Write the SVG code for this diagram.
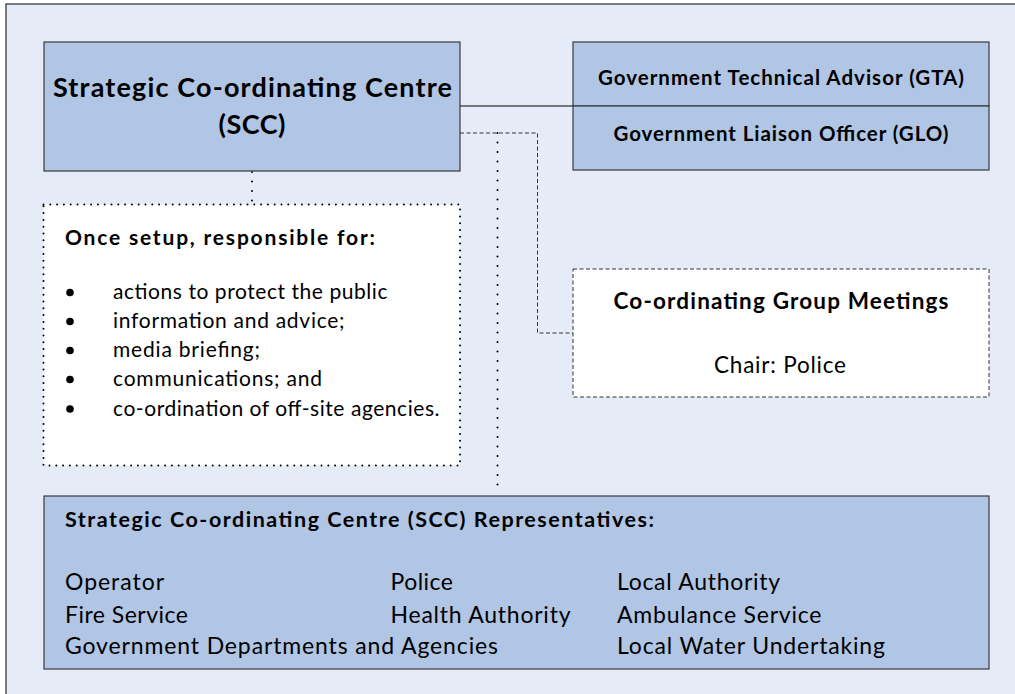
<svg xmlns="http://www.w3.org/2000/svg" width="1015" height="694" viewBox="0 0 1015 694">
<style>
text{font-family:Lato,"Liberation Sans",sans-serif;fill:#000}
.b{font-weight:bold}
.box{fill:#B1C5E4;stroke:#3a3a3a;stroke-width:1.2}
.solid{stroke:#000;stroke-width:1.2;fill:none}
.dash{stroke:#333;stroke-width:1;stroke-dasharray:4 2.5;fill:none}
.dot{stroke:#000;stroke-width:2;stroke-linecap:round;stroke-dasharray:0 9.5;fill:none}
.dotbox{fill:#fff;stroke:#000;stroke-width:2;stroke-linecap:round;stroke-dasharray:0 6.8}
</style>
<rect x="0" y="0" width="1015" height="694" fill="#fff"/>
<rect x="6" y="4" width="1020" height="700" fill="#E6ECF7" stroke="#000" stroke-width="1"/>
<g id="connectors">
<line class="solid" x1="460" y1="106" x2="573" y2="106"/>
<polyline class="dash" points="460,133 537.5,133 537.5,333 573,333"/>
<line class="dot" x1="497.5" y1="133" x2="497.5" y2="494"/>
<line class="dot" x1="252" y1="172" x2="252" y2="204"/>
</g>
<g id="scc">
<rect class="box" x="44" y="42" width="416" height="129"/>
<text class="b" x="252.5" y="97" font-size="27" text-anchor="middle" textLength="399">Strategic Co-ordinating Centre</text>
<text class="b" x="252" y="134" font-size="27" text-anchor="middle" textLength="67">(SCC)</text>
</g>
<g id="gta">
<rect class="box" x="573" y="42" width="416" height="64"/>
<text class="b" x="781" y="84.5" font-size="20.5" text-anchor="middle" textLength="366">Government Technical Advisor (GTA)</text>
</g>
<g id="glo">
<rect class="box" x="573" y="106" width="416" height="64"/>
<text class="b" x="781" y="141" font-size="20.5" text-anchor="middle" textLength="335">Government Liaison Officer (GLO)</text>
</g>
<g id="responsibilities">
<rect class="dotbox" x="43.5" y="204.5" width="416.5" height="261"/>
<text class="b" x="65" y="244.5" font-size="21" textLength="310">Once setup, responsible for:</text>
<g fill="#000">
<circle cx="70" cy="292.5" r="3.8"/>
<circle cx="70" cy="321.5" r="3.8"/>
<circle cx="70" cy="350.5" r="3.8"/>
<circle cx="70" cy="379.5" r="3.8"/>
<circle cx="70" cy="409" r="3.8"/>
</g>
<g font-size="21">
<text x="113" y="299" textLength="274.5">actions to protect the public</text>
<text x="113" y="328" textLength="231.5">information and advice;</text>
<text x="113" y="357" textLength="147">media briefing;</text>
<text x="113" y="386" textLength="209">communications; and</text>
<text x="113" y="415.5" textLength="326.5">co-ordination of off-site agencies.</text>
</g>
</g>
<g id="cgm">
<rect x="573" y="269" width="416" height="128" fill="#fff" stroke="#333" stroke-width="1" stroke-dasharray="4 2.5"/>
<text class="b" x="781" y="309" font-size="22.5" text-anchor="middle" textLength="335">Co-ordinating Group Meetings</text>
<text x="780" y="373" font-size="22.5" text-anchor="middle" textLength="132">Chair: Police</text>
</g>
<g id="representatives">
<rect class="box" x="44" y="496" width="945" height="173"/>
<text class="b" x="65" y="527" font-size="21.5" textLength="589">Strategic Co-ordinating Centre (SCC) Representatives:</text>
<g font-size="23">
<text x="65" y="590" textLength="99">Operator</text>
<text x="65" y="622.5" textLength="123">Fire Service</text>
<text x="65" y="653.5" textLength="433">Government Departments and Agencies</text>
<text x="390.5" y="590" textLength="62.5">Police</text>
<text x="390.5" y="622.5" textLength="180">Health Authority</text>
<text x="617" y="590" textLength="163">Local Authority</text>
<text x="617" y="622.5" textLength="204.5">Ambulance Service</text>
<text x="617" y="653.5" textLength="268">Local Water Undertaking</text>
</g>
</g>
</svg>
